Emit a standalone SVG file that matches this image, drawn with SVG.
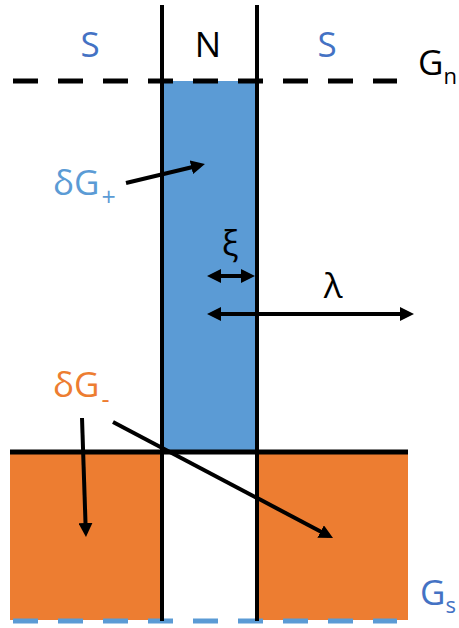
<svg xmlns="http://www.w3.org/2000/svg" width="459" height="628" viewBox="0 0 459 628">
<style>
text{font-family:"Open Sans","Liberation Sans",sans-serif;}
.lbl{font-size:35px;}
.sub{font-size:25px;}
.gsub{font-size:22px;}
.dk{fill:#4472C4;}
.lb{fill:#5B9BD5;}
.or{fill:#ED7D31;}
.bk{fill:#000;}
.arr{stroke:#000;stroke-width:4;fill:none;}
</style>
<defs>
<marker id="ah" markerUnits="userSpaceOnUse" markerWidth="16" markerHeight="14" viewBox="0 0 16 14" refX="9" refY="7" orient="auto-start-reverse">
<path d="M0,0 L14,7 L0,14 z" fill="#000"/>
</marker>
</defs>
<g id="regions">
<rect id="n-fill" x="162" y="81" width="95" height="371" fill="#5B9BD5"/>
<rect id="s-left" x="10" y="452" width="152" height="168" fill="#ED7D31"/>
<rect id="s-right" x="257" y="452" width="151" height="168" fill="#ED7D31"/>
</g>
<g id="lines">
<line x1="13" y1="81" x2="397" y2="81" stroke="#000" stroke-width="5" stroke-dasharray="25 20"/>
<line x1="13" y1="621" x2="397" y2="621" stroke="#5B9BD5" stroke-width="5" stroke-dasharray="25 20"/>
<line x1="10" y1="452" x2="408" y2="452" stroke="#000" stroke-width="5"/>
<line x1="162" y1="5" x2="162" y2="621" stroke="#000" stroke-width="4"/>
<line x1="257" y1="5" x2="257" y2="621" stroke="#000" stroke-width="4"/>
</g>
<g id="labels">
<text class="lbl dk" x="90" y="57" text-anchor="middle">S</text>
<text class="lbl bk" x="208" y="57" text-anchor="middle">N</text>
<text class="lbl dk" x="327" y="57" text-anchor="middle">S</text>
<text class="bk" x="418" y="75"><tspan class="lbl">G</tspan><tspan class="gsub" dy="9">n</tspan></text>
<text class="dk" x="420" y="605"><tspan class="lbl">G</tspan><tspan class="gsub" dy="8">s</tspan></text>
<text class="lb" x="53" y="195"><tspan class="lbl">δG</tspan><tspan class="sub" dx="2" dy="11">+</tspan></text>
<text class="or" x="53" y="397"><tspan class="lbl">δG</tspan><tspan class="sub" dx="2" dy="11">-</tspan></text>
<text class="lbl bk" x="230" y="255" text-anchor="middle">ξ</text>
<text class="lbl bk" x="333" y="298" text-anchor="middle">λ</text>
</g>
<g id="connectors">
<line class="arr" x1="126" y1="183" x2="200.1" y2="165.2" marker-end="url(#ah)"/>
<line class="arr" x1="212" y1="276" x2="250" y2="276" marker-start="url(#ah)" marker-end="url(#ah)"/>
<line class="arr" x1="212" y1="314" x2="409" y2="314" marker-start="url(#ah)" marker-end="url(#ah)"/>
<line class="arr" x1="82" y1="418" x2="85.8" y2="532" marker-end="url(#ah)"/>
<line class="arr" x1="113" y1="422" x2="328.6" y2="535.7" marker-end="url(#ah)"/>
</g>
</svg>
